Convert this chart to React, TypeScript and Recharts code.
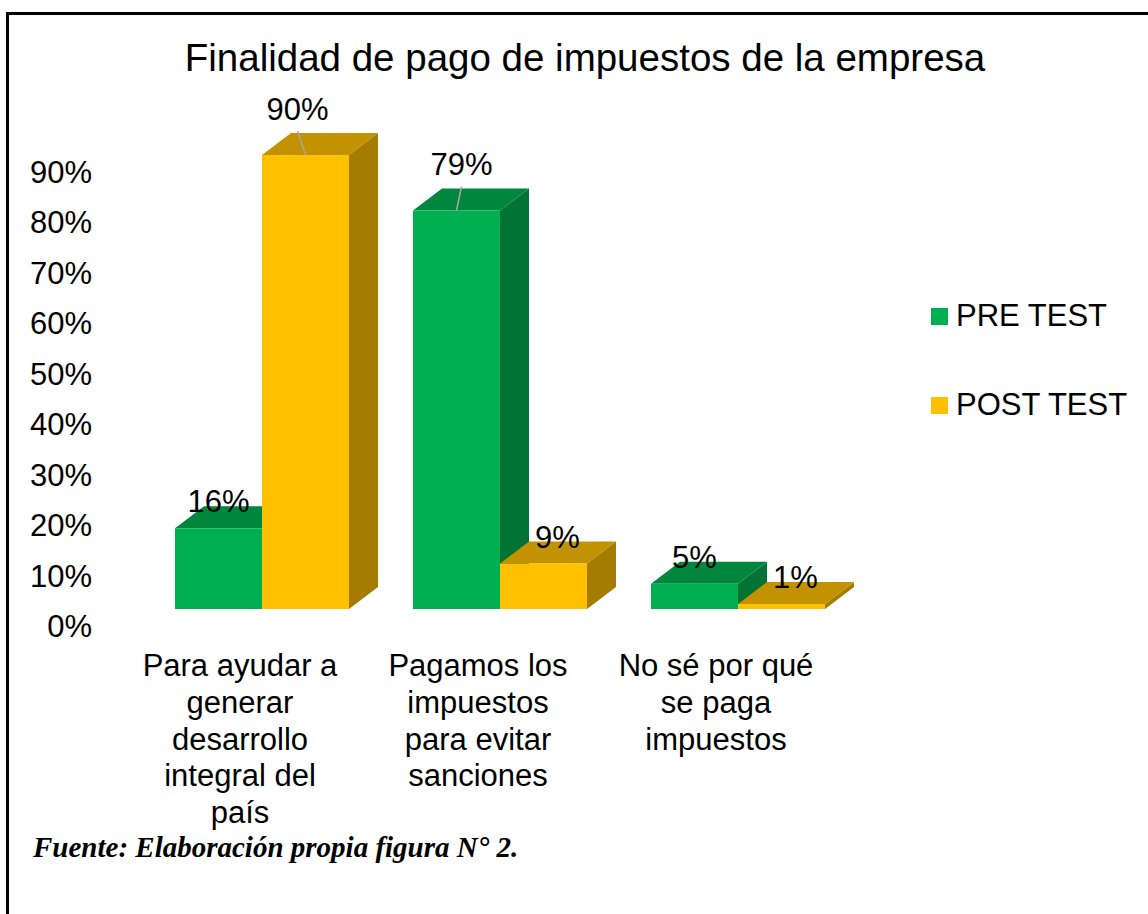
import React from "react";
import { BarChart, Bar, XAxis, YAxis, LabelList } from "recharts";

const categories = [
  "Para ayudar a generar desarrollo integral del país",
  "Pagamos los impuestos para evitar sanciones",
  "No sé por qué se paga impuestos",
];
const preTest = [16, 79, 5];
const postTest = [90, 9, 1];
const yTicks = [0, 10, 20, 30, 40, 50, 60, 70, 80, 90];
const seriesNames = ["PRE TEST", "POST TEST"];
const title = "Finalidad de pago de impuestos de la empresa";
const footer = "Fuente: Elaboración propia figura N° 2.";

const data = categories.map((c, i) => ({ category: c, pre: preTest[i], post: postTest[i] }));

const FONT = "'Liberation Sans', Arial, sans-serif";
const FS = 31;
const DX = 29;
const DY = 22;
const PLOT_LEFT = 143;
const PLOT_BOTTOM = 609;

const palette = {
  pre: { front: "#00B050", top: "#00863D", side: "#007434" },
  post: { front: "#FFC000", top: "#C29200", side: "#A47C00" },
};

let ctxCache: CanvasRenderingContext2D | null = null;
function wrap(text: string, maxW: number): string[] {
  if (!ctxCache) {
    ctxCache = document.createElement("canvas").getContext("2d");
  }
  const ctx = ctxCache!;
  ctx.font = `${FS}px 'Liberation Sans', Arial`;
  const words = text.split(" ");
  const lines: string[] = [];
  let cur = "";
  for (const w of words) {
    const cand = cur ? cur + " " + w : w;
    if (cur && ctx.measureText(cand).width > maxW) {
      lines.push(cur);
      cur = w;
    } else cur = cand;
  }
  if (cur) lines.push(cur);
  return lines;
}

const makeShape = (colors: { front: string; top: string; side: string }) => (props: any) => {
  const { x, y, width: w, height: h } = props;
  if (w == null || h == null) return null;
  return (
    <g>
      <polygon
        points={`${x + w},${y} ${x + w + DX},${y - DY} ${x + w + DX},${y + h - DY} ${x + w},${y + h}`}
        fill={colors.side}
      />
      <polygon
        points={`${x},${y} ${x + DX},${y - DY} ${x + w + DX},${y - DY} ${x + w},${y}`}
        fill={colors.top}
      />
      <rect x={x} y={y} width={w} height={h} fill={colors.front} />
    </g>
  );
};

const makeLabel = (isPost: boolean) => (props: any) => {
  const { x, y, width, value } = props;
  const cx = x + width / 2;
  if (value > 50) {
    const shift = isPost ? -8 : 5;
    return (
      <g>
        <line x1={cx + shift} y1={y - 24} x2={cx} y2={y} stroke="#A6A6A6" strokeWidth={1.5} />
        <text x={cx + shift} y={y - 46 + 11} textAnchor="middle" fontSize={FS} fontFamily={FONT} fill="#000">
          {value}%
        </text>
      </g>
    );
  }
  const shift = isPost ? 14 : 0;
  return (
    <text x={cx + shift} y={y - 27 + 11} textAnchor="middle" fontSize={FS} fontFamily={FONT} fill="#000">
      {value}%
    </text>
  );
};

const XTick = (props: any) => {
  const { x, payload } = props;
  const lines = wrap(payload.value, 210);
  return (
    <text textAnchor="middle" fontSize={FS} fontFamily={FONT} fill="#000">
      {lines.map((l, i) => (
        <tspan key={i} x={x - 22} y={PLOT_BOTTOM + 67 + i * 36.8}>
          {l}
        </tspan>
      ))}
    </text>
  );
};

const YTick = (props: any) => {
  const { y, payload } = props;
  return (
    <text x={PLOT_LEFT - 51} y={y + 17 + 11} textAnchor="end" fontSize={FS} fontFamily={FONT} fill="#000">
      {payload.value}%
    </text>
  );
};

export default function App() {
  return (
    <div style={{ position: "absolute", left: 0, top: 0, width: 1148, height: 914, background: "#fff", overflow: "hidden" }}>
      <div
        style={{
          position: "absolute",
          left: 6,
          top: 12,
          width: 1148,
          height: 914,
          borderTop: "3px solid #000",
          borderLeft: "3px solid #000",
        }}
      />
      <div
        style={{
          position: "absolute",
          left: 0,
          width: 1170,
          top: 36,
          textAlign: "center",
          fontFamily: FONT,
          fontSize: 38.5,
          lineHeight: "44px",
          color: "#000",
          whiteSpace: "nowrap",
        }}
      >
        {title}
      </div>
      <div style={{ position: "absolute", left: 0, top: 0 }}>
        <BarChart
          width={1148}
          height={914}
          data={data}
          margin={{ top: 155, right: 291, bottom: 275, left: 92 }}
          barCategoryGap={32}
          barGap={0}
        >
          <XAxis
            dataKey="category"
            height={30}
            axisLine={false}
            tickLine={false}
            interval={0}
            tick={<XTick />}
          />
          <YAxis
            width={51}
            domain={[0, 90]}
            ticks={yTicks}
            axisLine={false}
            tickLine={false}
            interval={0}
            tick={<YTick />}
          />
          <Bar dataKey="pre" name={seriesNames[0]} fill={palette.pre.front} shape={makeShape(palette.pre)} isAnimationActive={false}>
            <LabelList dataKey="pre" content={makeLabel(false)} />
          </Bar>
          <Bar dataKey="post" name={seriesNames[1]} fill={palette.post.front} shape={makeShape(palette.post)} isAnimationActive={false}>
            <LabelList dataKey="post" content={makeLabel(true)} />
          </Bar>
        </BarChart>
      </div>
      {seriesNames.map((n, i) => (
        <div key={n} style={{ position: "absolute", left: 931, top: 298 + i * 89, height: 36, display: "flex", alignItems: "center" }}>
          <div style={{ width: 17, height: 17, background: i === 0 ? palette.pre.front : palette.post.front }} />
          <span style={{ marginLeft: 8, fontFamily: FONT, fontSize: FS, color: "#000", whiteSpace: "nowrap" }}>{n}</span>
        </div>
      ))}
      <div
        style={{
          position: "absolute",
          left: 33,
          top: 830,
          fontFamily: "'Liberation Serif', 'Times New Roman', serif",
          fontWeight: "bold",
          fontStyle: "italic",
          fontSize: 29,
          lineHeight: "34px",
          color: "#000",
          whiteSpace: "nowrap",
        }}
      >
        {footer}
      </div>
    </div>
  );
}
